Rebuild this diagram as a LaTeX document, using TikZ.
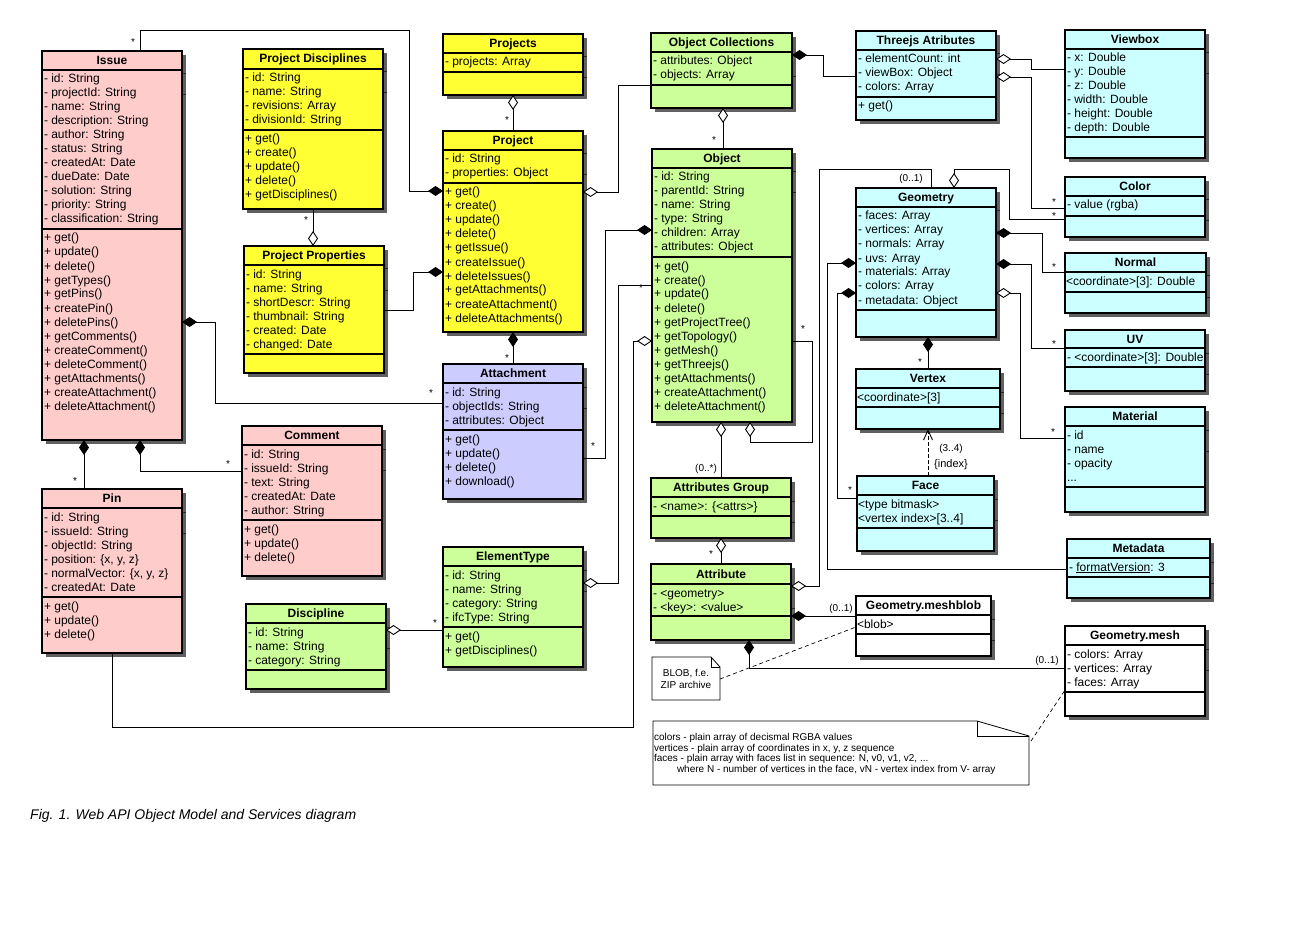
\documentclass[tikz,border=0pt]{standalone}
\usepackage{fontspec}
\setmainfont{Liberation Sans}
\usetikzlibrary{arrows.meta}
\definecolor{pinkc}{HTML}{FFCCCC}
\definecolor{yelc}{HTML}{FFFF33}
\definecolor{lavc}{HTML}{CCCCFF}
\definecolor{grnc}{HTML}{CCFF99}
\definecolor{cyac}{HTML}{CCFFFF}
\definecolor{shdc}{HTML}{606060}
\tikzset{
  classbox/.style={draw=black, line width=2pt, rectangle, inner sep=0pt, outer sep=0pt, anchor=north west},
  divline/.style={line width=2pt},
  linetxt/.style={font=\fontsize{12}{14}\selectfont, inner sep=0pt, outer sep=0pt, anchor=base west},
  titletxt/.style={font=\fontsize{12}{14}\selectfont\bfseries, inner sep=0pt, outer sep=0pt, anchor=base},
  conn/.style={line width=0.9pt},
  fdia/.style={arrows={Diamond[length=15pt,width=10pt]-}},
  hdia/.style={arrows={Diamond[length=15pt,width=10pt,fill=white]-}},
  multl/.style={font=\fontsize{10}{12}\selectfont, inner sep=0pt, outer sep=0pt, anchor=base},
  notebox/.style={draw, line width=0.8pt, fill=white},
  notetxt/.style={font=\fontsize{10}{11}\selectfont, inner sep=0pt, outer sep=0pt, anchor=base west},
  dashline/.style={line width=0.7pt, dash pattern=on 4pt off 3pt},
}
\newcommand\umlbox[9]{%
  \fill[shdc] (#2+4,#3+4) rectangle (#4+4,#5+4);
  \draw[black!85, line width=1pt] (#4,#3+23) -- (#4+4,#3+23) (#4,#3+44) -- (#4+4,#3+44);
  \node[classbox, fill=#8, minimum width={(#4-#2)*1pt}, minimum height={(#5-#3)*1pt}] (#1) at (#2,#3) {};
  \draw[divline] (#2,#6) -- (#4,#6) (#2,#7) -- (#4,#7);
  \node[titletxt] (#1-title) at ({(#2+#4)/2},{(#3+#6)/2+4}) {#9};
}
\newcommand\umllines[4]{%
  \foreach \myl [count=\myi] in {#4} {%
    \node[linetxt] (#1-\myi) at (#2+2,{#3+13+14*(\myi-1)}) {\myl};
  }%
}
\begin{document}
\begin{tikzpicture}[x=1pt,y=-1pt]
\useasboundingbox (0,0) rectangle (1311,933);
\fill[white] (0,0) rectangle (1311,933);

% ---------------- classes
\umlbox{issue}{42}{51}{182}{440}{70}{229}{pinkc}{Issue}
\umllines{issue-a}{42}{70}{- id: String, - projectId: String, - name: String, - description: String, - author: String, - status: String, - createdAt: Date, - dueDate: Date, - solution: String, - priority: String, - classification: String}
\umllines{issue-m}{42}{229}{+ get(), + update(), + delete(), + getTypes(), + getPins(), + createPin(), + deletePins(), + getComments(), + createComment(), + deleteComment(), + getAttachments(), + createAttachment(), + deleteAttachment()}

\umlbox{pdisc}{243}{49}{383}{209}{69}{130}{yelc}{Project Disciplines}
\umllines{pdisc-a}{243}{69}{- id: String, - name: String, - revisions: Array, - divisionId: String}
\umllines{pdisc-m}{243}{130}{+ get(), + create(), + update(), + delete(), + getDisciplines()}

\umlbox{pprop}{244}{246}{384}{373}{265}{354}{yelc}{Project Properties}
\umllines{pprop-a}{244}{265}{- id: String, - name: String, - shortDescr: String, - thumbnail: String, - created: Date, - changed: Date}

\umlbox{projects}{443}{34}{583}{95}{53}{72}{yelc}{Projects}
\umllines{projects-a}{443}{53}{- projects: Array}

\umlbox{project}{443}{131}{583}{332}{150}{183}{yelc}{Project}
\umllines{project-a}{443}{150}{- id: String, - properties: Object}
\umllines{project-m}{443}{183}{+ get(), + create(), + update(), + delete(), + getIssue(), + createIssue(), + deleteIssues(), + getAttachments(), + createAttachment(), + deleteAttachments()}

\umlbox{attachment}{443}{364}{583}{499}{383}{430}{lavc}{Attachment}
\umllines{attachment-a}{443}{383}{- id: String, - objectIds: String, - attributes: Object}
\umllines{attachment-m}{443}{430}{+ get(), + update(), + delete(), + download()}

\umlbox{comment}{242}{426}{382}{576}{445}{520}{pinkc}{Comment}
\umllines{comment-a}{242}{445}{- id: String, - issueId: String, - text: String, - createdAt: Date, - author: String}
\umllines{comment-m}{242}{520}{+ get(), + update(), + delete()}

\umlbox{pin}{42}{489}{182}{653}{508}{597}{pinkc}{Pin}
\umllines{pin-a}{42}{508}{- id: String, - issueId: String, - objectId: String, {- position: \{x, y, z\}}, {- normalVector: \{x, y, z\}}, - createdAt: Date}
\umllines{pin-m}{42}{597}{+ get(), + update(), + delete()}

\umlbox{discipline}{246}{604}{386}{689}{623}{670}{grnc}{Discipline}
\umllines{discipline-a}{246}{623}{- id: String, - name: String, - category: String}

\umlbox{elemtype}{443}{547}{583}{667}{566}{627}{grnc}{ElementType}
\umllines{elemtype-a}{443}{566}{- id: String, - name: String, - category: String, - ifcType: String}
\umllines{elemtype-m}{443}{627}{+ get(), + getDisciplines()}

\umlbox{objcoll}{651}{33}{792}{108}{52}{85}{grnc}{Object Collections}
\umllines{objcoll-a}{651}{52}{- attributes: Object, - objects: Array}

\umlbox{object}{652}{149}{792}{422}{168}{257}{grnc}{Object}
\umllines{object-a}{652}{168}{- id: String, - parentId: String, - name: String, - type: String, - children: Array, - attributes: Object}
\umllines{object-m}{652}{257}{+ get(), + create(), + update(), + delete(), + getProjectTree(), + getTopology(), + getMesh(), + getThreejs(), + getAttachments(), + createAttachment(), + deleteAttachment()}

\umlbox{attrgroup}{651}{478}{791}{538}{497}{516}{grnc}{Attributes Group}
\umllines{attrgroup-a}{651}{497}{- <name>: \{<attrs>\}}

\umlbox{attribute}{651}{564}{791}{640}{584}{616}{grnc}{Attribute}
\umllines{attribute-a}{651}{584}{- <geometry>, - <key>: <value>}

\umlbox{threejs}{856}{31}{996}{120}{50}{97}{cyac}{Threejs Atributes}
\umllines{threejs-a}{856}{50}{- elementCount: int, - viewBox: Object, - colors: Array}
\umllines{threejs-m}{856}{97}{+ get()}

\umlbox{viewbox}{1065}{30}{1205}{158}{49}{137}{cyac}{Viewbox}
\umllines{viewbox-a}{1065}{49}{- x: Double, - y: Double, - z: Double, - width: Double, - height: Double, - depth: Double}

\umlbox{color}{1065}{177}{1205}{237}{196}{216}{cyac}{Color}
\umllines{color-a}{1065}{196}{- value (rgba)}

\umlbox{geometry}{856}{188}{996}{337}{207}{310}{cyac}{Geometry}
\umllines{geometry-a}{856}{207}{- faces: Array, - vertices: Array, - normals: Array, - uvs: Array, - materials: Array, - colors: Array, - metadata: Object}

\umlbox{normal}{1065}{253}{1206}{313}{272}{292}{cyac}{Normal}
\umllines{normal-a}{1064}{272}{<coordinate>[3]: Double}

\umlbox{uv}{1065}{330}{1205}{391}{348}{367}{cyac}{UV}
\umllines{uv-a}{1065}{348}{- <coordinate>[3]: Double}

\umlbox{material}{1065}{407}{1205}{512}{426}{487}{cyac}{Material}
\umllines{material-a}{1065}{426}{- id, - name, - opacity, .{}.{}.}

\umlbox{vertex}{856}{369}{1000}{429}{388}{407}{cyac}{Vertex}
\umllines{vertex-a}{855}{388}{<coordinate>[3]}

\umlbox{face}{857}{476}{994}{551}{495}{528}{cyac}{Face}
\umllines{face-a}{856}{495}{<type bitmask>, <vertex index>[3..4]}

\umlbox{metadata}{1067}{539}{1210}{598}{558}{577}{cyac}{Metadata}
\umllines{metadata-a}{1067}{558}{- \underline{formatVersion}: 3}

\umlbox{meshblob}{856}{596}{991}{656}{615}{634}{white}{Geometry.meshblob}
\umllines{meshblob-a}{855}{615}{<blob>}

\umlbox{mesh}{1065}{626}{1205}{716}{645}{692}{white}{Geometry.mesh}
\umllines{mesh-a}{1065}{645}{- colors: Array, - vertices: Array, - faces: Array}

% ---------------- connectors
\draw[conn,fdia] (project.west |- 0,191) -- (409,191) |- (140,30) -- (140,0 |- issue.north);
\draw[conn,fdia] (project.west |- 0,272) -- (413,272) |- (pprop.east |- 0,310);
\draw[conn,hdia] (313,0 |- pprop.north) -- (313,0 |- pdisc.south);
\draw[conn,hdia] (513,0 |- projects.south) -- (513,0 |- project.north);
\draw[conn,hdia] (project.east |- 0,192) -- (618,192) |- (objcoll.west |- 0,85);
\draw[conn,hdia] (723,0 |- objcoll.south) -- (723,0 |- object.north);
\draw[conn,fdia] (objcoll.east |- 0,55) -- (823,55) |- (threejs.west |- 0,76);
\draw[conn,hdia] (threejs.east |- 0,59) -- (1031,59) |- (viewbox.west |- 0,69);
\draw[conn,hdia] (threejs.east |- 0,77) -- (1031,77) |- (color.west |- 0,208);
\draw[conn,hdia] (954,0 |- geometry.north) -- (954,169) -| (1009,219) -- (color.west |- 0,219);
\draw[conn,hdia] (attribute.east |- 0,586) -- (819,586) -- (819,169) -| (931,0 |- geometry.north);
\draw[conn,fdia] (geometry.east |- 0,233) -- (1042,233) |- (normal.west |- 0,272);
\draw[conn,fdia] (geometry.east |- 0,264) -- (1031,264) |- (uv.west |- 0,348);
\draw[conn,hdia] (geometry.east |- 0,293) -- (1020,293) |- (material.west |- 0,438);
\draw[conn,fdia] (928,0 |- geometry.south) -- (928,0 |- vertex.north);
\draw[conn,dash pattern=on 4pt off 2pt,arrows={-Straight Barb[length=10pt,width=9pt]}] (928,0 |- face.north) -- (928,0 |- vertex.south);
\draw[conn,fdia] (geometry.west |- 0,293) -- (837,293) |- (face.west |- 0,498);
\draw[conn,fdia] (geometry.west |- 0,263) -- (827,263) |- (metadata.west |- 0,569);
\draw[conn,hdia] (721,0 |- object.south) -- (721,0 |- attrgroup.north);
\draw[conn,hdia] (750,0 |- object.south) -- (750,442) -| (812,341) -- (object.east |- 0,341);
\draw[conn,hdia] (721,0 |- attrgroup.south) -- (721,0 |- attribute.north);
\draw[conn,fdia] (attribute.east |- 0,616) -- (meshblob.west |- 0,616);
\draw[conn,fdia] (749,0 |- attribute.south) |- (mesh.west |- 0,668);
\draw[conn,fdia] (issue.east |- 0,322) -- (215,322) |- (attachment.west |- 0,403);
\draw[conn,fdia] (84,0 |- issue.south) -- (84,0 |- pin.north);
\draw[conn,fdia] (140,0 |- issue.south) |- (comment.west |- 0,471);
\draw[conn,fdia] (513,0 |- project.south) -- (513,0 |- attachment.north);
\draw[conn,fdia] (object.west |- 0,230) -- (605,230) |- (attachment.east |- 0,458);
\draw[conn,hdia] (elemtype.east |- 0,583) -- (618,583) -- (618,285) -- (object.west |- 0,285);
\draw[conn,hdia] (object.west |- 0,341) -- (633,341) -- (633,727) -- (112,727) -- (112,0 |- pin.south);
\draw[conn,hdia] (discipline.east |- 0,630) -- (elemtype.west |- 0,630);

% ---------------- multiplicities
\foreach \sx/\sy [count=\si] in {133/40, 306/218, 507/118, 714/138, 1054/200, 1054/214, 1054/265, 1054/342, 1053/430, 920/360, 850/488, 803/327, 711/552, 431/391, 75/479, 228/462, 507/356, 593/444, 641/286, 435/621}
  \node[multl] (star-\si) at (\sx,\sy+5.5) {*};
\node[multl] (m-geo) at (911,181.5) {(0..1)};
\node[multl] (m-ag) at (706,471.5) {(0..*)};
\node[multl] (m-blob) at (841,611.5) {(0..1)};
\node[multl] (m-mesh) at (1047,663) {(0..1)};
\node[multl] (m-34) at (951,451.5) {(3..4)};
\node[multl, font=\fontsize{11}{12}\selectfont] (m-idx) at (951,467) {\{index\}};

% ---------------- notes
\draw[notebox] (652,657) -- (711,657) -- (720,667) -- (720,700) -- (652,700) -- cycle;
\draw[line width=0.8pt] (711,657) -- (711,667) -- (720,667);
\node[multl] (blob1) at (686,676.5) {BLOB, f.e.};
\node[multl] (blob2) at (686,688) {ZIP archive};
\coordinate (blobend) at (720,679);
\draw[dashline] (blobend) -- (meshblob.west |- 0,627);

\draw[notebox] (653,721) -- (977,721) -- (1029,736) -- (1029,785) -- (653,785) -- cycle;
\draw[line width=0.8pt] (977,721) -- (977,736) -- (1029,736);
\node[notetxt] (note1) at (654,740.5) {colors - plain array of decismal RGBA values};
\node[notetxt] (note2) at (654,751.2) {vertices - plain array of coordinates in x, y, z sequence};
\node[notetxt] (note3) at (654,761.9) {faces - plain array with faces list in sequence: N, v0, v1, v2, ...};
\node[notetxt] (note4) at (677,772.6) {where N - number of vertices in the face, vN - vertex index from V- array};
\coordinate (noteend) at (1031,741);
\draw[dashline] (noteend) -- (mesh.west |- 0,690);

% ---------------- caption
\node[font=\fontsize{14}{16}\selectfont\itshape, inner sep=0pt, anchor=base west] (caption) at (30,819) {Fig. 1. Web API Object Model and Services diagram};
\end{tikzpicture}
\end{document}
